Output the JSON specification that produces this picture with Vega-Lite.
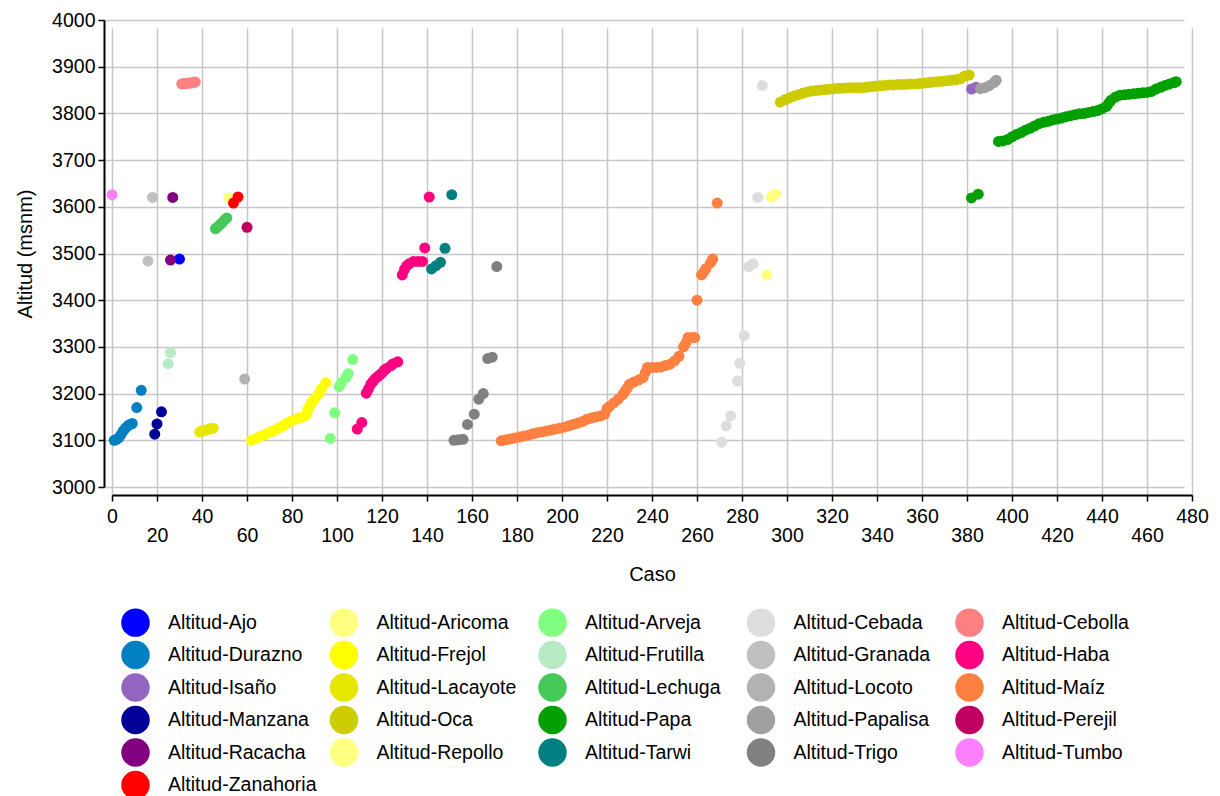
{
  "$schema": "https://vega.github.io/schema/vega-lite/v6.json",
  "width": 1080,
  "height": 467,
  "autosize": {"type": "none"},
  "padding": {"left": 112, "top": 20, "right": 28, "bottom": 309},
  "background": "white",
  "config": {
    "view": {"stroke": null},
    "font": "Liberation Sans",
    "axis": {
      "labelFont": "Liberation Sans", "titleFont": "Liberation Sans",
      "labelColor": "#000", "titleColor": "#000",
      "labelFontSize": 19.5, "titleFontSize": 20, "titleFontWeight": "normal",
      "domainColor": "#000", "domainWidth": 2, "tickColor": "#000", "tickWidth": 1.5, "tickSize": 6,
      "gridColor": "#c6c6c6", "gridWidth": 1.5, "offset": 8
    },
    "legend": {"labelFont": "Liberation Sans", "labelFontSize": 19.5, "labelColor": "#000"}
  },
  "data": {"values": [
    {"serie":"Altitud-Ajo","caso":30,"alt":3488},
    {"serie":"Altitud-Aricoma","caso":52,"alt":3619},
    {"serie":"Altitud-Arveja","caso":97,"alt":3104},{"serie":"Altitud-Arveja","caso":99,"alt":3159},{"serie":"Altitud-Arveja","caso":101,"alt":3215},{"serie":"Altitud-Arveja","caso":102,"alt":3224},{"serie":"Altitud-Arveja","caso":104,"alt":3235},{"serie":"Altitud-Arveja","caso":105,"alt":3243},{"serie":"Altitud-Arveja","caso":107,"alt":3273},
    {"serie":"Altitud-Cebada","caso":271,"alt":3096},{"serie":"Altitud-Cebada","caso":273,"alt":3131},{"serie":"Altitud-Cebada","caso":275,"alt":3152},{"serie":"Altitud-Cebada","caso":278,"alt":3227},{"serie":"Altitud-Cebada","caso":279,"alt":3265},{"serie":"Altitud-Cebada","caso":281,"alt":3324},{"serie":"Altitud-Cebada","caso":283,"alt":3472},{"serie":"Altitud-Cebada","caso":285,"alt":3478},{"serie":"Altitud-Cebada","caso":287,"alt":3620},{"serie":"Altitud-Cebada","caso":289,"alt":3860},
    {"serie":"Altitud-Cebolla","caso":31,"alt":3863},{"serie":"Altitud-Cebolla","caso":32,"alt":3864},{"serie":"Altitud-Cebolla","caso":33,"alt":3864},{"serie":"Altitud-Cebolla","caso":34,"alt":3865},{"serie":"Altitud-Cebolla","caso":35,"alt":3865},{"serie":"Altitud-Cebolla","caso":36,"alt":3866},{"serie":"Altitud-Cebolla","caso":37,"alt":3867},
    {"serie":"Altitud-Durazno","caso":1,"alt":3100},{"serie":"Altitud-Durazno","caso":2,"alt":3102},{"serie":"Altitud-Durazno","caso":3,"alt":3105},{"serie":"Altitud-Durazno","caso":4,"alt":3112},{"serie":"Altitud-Durazno","caso":5,"alt":3120},{"serie":"Altitud-Durazno","caso":6,"alt":3126},{"serie":"Altitud-Durazno","caso":7,"alt":3131},{"serie":"Altitud-Durazno","caso":8,"alt":3134},{"serie":"Altitud-Durazno","caso":9,"alt":3136},{"serie":"Altitud-Durazno","caso":11,"alt":3170},{"serie":"Altitud-Durazno","caso":13,"alt":3207},
    {"serie":"Altitud-Frejol","caso":62,"alt":3100},{"serie":"Altitud-Frejol","caso":64,"alt":3104},{"serie":"Altitud-Frejol","caso":66,"alt":3108},{"serie":"Altitud-Frejol","caso":68,"alt":3112},{"serie":"Altitud-Frejol","caso":70,"alt":3117},{"serie":"Altitud-Frejol","caso":72,"alt":3121},{"serie":"Altitud-Frejol","caso":74,"alt":3126},{"serie":"Altitud-Frejol","caso":76,"alt":3131},{"serie":"Altitud-Frejol","caso":78,"alt":3137},{"serie":"Altitud-Frejol","caso":80,"alt":3142},{"serie":"Altitud-Frejol","caso":82,"alt":3146},{"serie":"Altitud-Frejol","caso":84,"alt":3149},{"serie":"Altitud-Frejol","caso":86,"alt":3153},{"serie":"Altitud-Frejol","caso":87,"alt":3165},{"serie":"Altitud-Frejol","caso":88,"alt":3175},{"serie":"Altitud-Frejol","caso":89,"alt":3183},{"serie":"Altitud-Frejol","caso":90,"alt":3188},{"serie":"Altitud-Frejol","caso":92,"alt":3200},{"serie":"Altitud-Frejol","caso":93,"alt":3210},{"serie":"Altitud-Frejol","caso":95,"alt":3223},
    {"serie":"Altitud-Frutilla","caso":25,"alt":3264},{"serie":"Altitud-Frutilla","caso":26,"alt":3288},
    {"serie":"Altitud-Granada","caso":16,"alt":3484},{"serie":"Altitud-Granada","caso":18,"alt":3620},
    {"serie":"Altitud-Haba","caso":109,"alt":3124},{"serie":"Altitud-Haba","caso":111,"alt":3138},{"serie":"Altitud-Haba","caso":113,"alt":3201},{"serie":"Altitud-Haba","caso":114,"alt":3210},{"serie":"Altitud-Haba","caso":115,"alt":3220},{"serie":"Altitud-Haba","caso":116,"alt":3226},{"serie":"Altitud-Haba","caso":117,"alt":3232},{"serie":"Altitud-Haba","caso":118,"alt":3236},{"serie":"Altitud-Haba","caso":119,"alt":3240},{"serie":"Altitud-Haba","caso":120,"alt":3244},{"serie":"Altitud-Haba","caso":121,"alt":3250},{"serie":"Altitud-Haba","caso":122,"alt":3254},{"serie":"Altitud-Haba","caso":124,"alt":3260},{"serie":"Altitud-Haba","caso":125,"alt":3264},{"serie":"Altitud-Haba","caso":127,"alt":3268},{"serie":"Altitud-Haba","caso":129,"alt":3454},{"serie":"Altitud-Haba","caso":130,"alt":3466},{"serie":"Altitud-Haba","caso":131,"alt":3474},{"serie":"Altitud-Haba","caso":132,"alt":3478},{"serie":"Altitud-Haba","caso":134,"alt":3483},{"serie":"Altitud-Haba","caso":136,"alt":3483},{"serie":"Altitud-Haba","caso":138,"alt":3483},{"serie":"Altitud-Haba","caso":139,"alt":3512},{"serie":"Altitud-Haba","caso":141,"alt":3621},
    {"serie":"Altitud-Isaño","caso":382,"alt":3852},{"serie":"Altitud-Isaño","caso":384,"alt":3856},
    {"serie":"Altitud-Lacayote","caso":39,"alt":3118},{"serie":"Altitud-Lacayote","caso":40,"alt":3120},{"serie":"Altitud-Lacayote","caso":41,"alt":3121},{"serie":"Altitud-Lacayote","caso":42,"alt":3122},{"serie":"Altitud-Lacayote","caso":43,"alt":3124},{"serie":"Altitud-Lacayote","caso":44,"alt":3125},{"serie":"Altitud-Lacayote","caso":45,"alt":3126},
    {"serie":"Altitud-Lechuga","caso":46,"alt":3553},{"serie":"Altitud-Lechuga","caso":47,"alt":3557},{"serie":"Altitud-Lechuga","caso":48,"alt":3562},{"serie":"Altitud-Lechuga","caso":49,"alt":3566},{"serie":"Altitud-Lechuga","caso":50,"alt":3572},{"serie":"Altitud-Lechuga","caso":51,"alt":3576},
    {"serie":"Altitud-Locoto","caso":59,"alt":3231},
    {"serie":"Altitud-Maíz","caso":173,"alt":3099},{"serie":"Altitud-Maíz","caso":175,"alt":3101},{"serie":"Altitud-Maíz","caso":177,"alt":3103},{"serie":"Altitud-Maíz","caso":179,"alt":3105},{"serie":"Altitud-Maíz","caso":181,"alt":3107},{"serie":"Altitud-Maíz","caso":183,"alt":3109},{"serie":"Altitud-Maíz","caso":185,"alt":3111},{"serie":"Altitud-Maíz","caso":187,"alt":3114},{"serie":"Altitud-Maíz","caso":189,"alt":3116},{"serie":"Altitud-Maíz","caso":191,"alt":3118},{"serie":"Altitud-Maíz","caso":193,"alt":3120},{"serie":"Altitud-Maíz","caso":195,"alt":3122},{"serie":"Altitud-Maíz","caso":197,"alt":3124},{"serie":"Altitud-Maíz","caso":199,"alt":3126},{"serie":"Altitud-Maíz","caso":201,"alt":3128},{"serie":"Altitud-Maíz","caso":203,"alt":3131},{"serie":"Altitud-Maíz","caso":205,"alt":3134},{"serie":"Altitud-Maíz","caso":207,"alt":3137},{"serie":"Altitud-Maíz","caso":209,"alt":3140},{"serie":"Altitud-Maíz","caso":211,"alt":3145},{"serie":"Altitud-Maíz","caso":213,"alt":3148},{"serie":"Altitud-Maíz","caso":215,"alt":3150},{"serie":"Altitud-Maíz","caso":217,"alt":3152},{"serie":"Altitud-Maíz","caso":219,"alt":3156},{"serie":"Altitud-Maíz","caso":220,"alt":3168},{"serie":"Altitud-Maíz","caso":221,"alt":3172},{"serie":"Altitud-Maíz","caso":223,"alt":3180},{"serie":"Altitud-Maíz","caso":225,"alt":3188},{"serie":"Altitud-Maíz","caso":227,"alt":3198},{"serie":"Altitud-Maíz","caso":228,"alt":3205},{"serie":"Altitud-Maíz","caso":229,"alt":3212},{"serie":"Altitud-Maíz","caso":230,"alt":3220},{"serie":"Altitud-Maíz","caso":232,"alt":3225},{"serie":"Altitud-Maíz","caso":234,"alt":3229},{"serie":"Altitud-Maíz","caso":236,"alt":3234},{"serie":"Altitud-Maíz","caso":237,"alt":3245},{"serie":"Altitud-Maíz","caso":238,"alt":3256},{"serie":"Altitud-Maíz","caso":240,"alt":3256},{"serie":"Altitud-Maíz","caso":242,"alt":3256},{"serie":"Altitud-Maíz","caso":244,"alt":3257},{"serie":"Altitud-Maíz","caso":246,"alt":3260},{"serie":"Altitud-Maíz","caso":248,"alt":3263},{"serie":"Altitud-Maíz","caso":250,"alt":3270},{"serie":"Altitud-Maíz","caso":252,"alt":3280},{"serie":"Altitud-Maíz","caso":254,"alt":3300},{"serie":"Altitud-Maíz","caso":255,"alt":3308},{"serie":"Altitud-Maíz","caso":256,"alt":3320},{"serie":"Altitud-Maíz","caso":258,"alt":3320},{"serie":"Altitud-Maíz","caso":259,"alt":3320},{"serie":"Altitud-Maíz","caso":260,"alt":3400},{"serie":"Altitud-Maíz","caso":262,"alt":3454},{"serie":"Altitud-Maíz","caso":263,"alt":3460},{"serie":"Altitud-Maíz","caso":264,"alt":3468},{"serie":"Altitud-Maíz","caso":266,"alt":3480},{"serie":"Altitud-Maíz","caso":267,"alt":3488},{"serie":"Altitud-Maíz","caso":269,"alt":3608},
    {"serie":"Altitud-Manzana","caso":19,"alt":3113},{"serie":"Altitud-Manzana","caso":20,"alt":3135},{"serie":"Altitud-Manzana","caso":22,"alt":3161},
    {"serie":"Altitud-Oca","caso":297,"alt":3824},{"serie":"Altitud-Oca","caso":299,"alt":3829},{"serie":"Altitud-Oca","caso":301,"alt":3833},{"serie":"Altitud-Oca","caso":303,"alt":3837},{"serie":"Altitud-Oca","caso":305,"alt":3840},{"serie":"Altitud-Oca","caso":307,"alt":3843},{"serie":"Altitud-Oca","caso":309,"alt":3846},{"serie":"Altitud-Oca","caso":311,"alt":3848},{"serie":"Altitud-Oca","caso":313,"alt":3849},{"serie":"Altitud-Oca","caso":315,"alt":3850},{"serie":"Altitud-Oca","caso":317,"alt":3851},{"serie":"Altitud-Oca","caso":319,"alt":3852},{"serie":"Altitud-Oca","caso":321,"alt":3853},{"serie":"Altitud-Oca","caso":323,"alt":3854},{"serie":"Altitud-Oca","caso":325,"alt":3854},{"serie":"Altitud-Oca","caso":327,"alt":3855},{"serie":"Altitud-Oca","caso":329,"alt":3855},{"serie":"Altitud-Oca","caso":331,"alt":3855},{"serie":"Altitud-Oca","caso":333,"alt":3855},{"serie":"Altitud-Oca","caso":335,"alt":3856},{"serie":"Altitud-Oca","caso":337,"alt":3857},{"serie":"Altitud-Oca","caso":339,"alt":3858},{"serie":"Altitud-Oca","caso":341,"alt":3859},{"serie":"Altitud-Oca","caso":343,"alt":3860},{"serie":"Altitud-Oca","caso":345,"alt":3861},{"serie":"Altitud-Oca","caso":347,"alt":3861},{"serie":"Altitud-Oca","caso":349,"alt":3862},{"serie":"Altitud-Oca","caso":351,"alt":3862},{"serie":"Altitud-Oca","caso":353,"alt":3862},{"serie":"Altitud-Oca","caso":355,"alt":3863},{"serie":"Altitud-Oca","caso":357,"alt":3863},{"serie":"Altitud-Oca","caso":359,"alt":3864},{"serie":"Altitud-Oca","caso":361,"alt":3865},{"serie":"Altitud-Oca","caso":363,"alt":3866},{"serie":"Altitud-Oca","caso":365,"alt":3867},{"serie":"Altitud-Oca","caso":367,"alt":3868},{"serie":"Altitud-Oca","caso":369,"alt":3869},{"serie":"Altitud-Oca","caso":371,"alt":3870},{"serie":"Altitud-Oca","caso":373,"alt":3871},{"serie":"Altitud-Oca","caso":375,"alt":3872},{"serie":"Altitud-Oca","caso":377,"alt":3874},{"serie":"Altitud-Oca","caso":379,"alt":3880},{"serie":"Altitud-Oca","caso":381,"alt":3882},
    {"serie":"Altitud-Papa","caso":382,"alt":3619},{"serie":"Altitud-Papa","caso":385,"alt":3627},{"serie":"Altitud-Papa","caso":394,"alt":3740},{"serie":"Altitud-Papa","caso":396,"alt":3741},{"serie":"Altitud-Papa","caso":398,"alt":3744},{"serie":"Altitud-Papa","caso":400,"alt":3750},{"serie":"Altitud-Papa","caso":402,"alt":3755},{"serie":"Altitud-Papa","caso":404,"alt":3759},{"serie":"Altitud-Papa","caso":406,"alt":3764},{"serie":"Altitud-Papa","caso":408,"alt":3768},{"serie":"Altitud-Papa","caso":410,"alt":3773},{"serie":"Altitud-Papa","caso":412,"alt":3778},{"serie":"Altitud-Papa","caso":414,"alt":3781},{"serie":"Altitud-Papa","caso":416,"alt":3783},{"serie":"Altitud-Papa","caso":418,"alt":3786},{"serie":"Altitud-Papa","caso":420,"alt":3788},{"serie":"Altitud-Papa","caso":422,"alt":3790},{"serie":"Altitud-Papa","caso":424,"alt":3793},{"serie":"Altitud-Papa","caso":426,"alt":3795},{"serie":"Altitud-Papa","caso":428,"alt":3797},{"serie":"Altitud-Papa","caso":430,"alt":3799},{"serie":"Altitud-Papa","caso":432,"alt":3800},{"serie":"Altitud-Papa","caso":434,"alt":3802},{"serie":"Altitud-Papa","caso":436,"alt":3804},{"serie":"Altitud-Papa","caso":438,"alt":3806},{"serie":"Altitud-Papa","caso":440,"alt":3810},{"serie":"Altitud-Papa","caso":442,"alt":3815},{"serie":"Altitud-Papa","caso":443,"alt":3822},{"serie":"Altitud-Papa","caso":444,"alt":3828},{"serie":"Altitud-Papa","caso":446,"alt":3835},{"serie":"Altitud-Papa","caso":448,"alt":3839},{"serie":"Altitud-Papa","caso":450,"alt":3840},{"serie":"Altitud-Papa","caso":452,"alt":3841},{"serie":"Altitud-Papa","caso":454,"alt":3842},{"serie":"Altitud-Papa","caso":456,"alt":3843},{"serie":"Altitud-Papa","caso":458,"alt":3844},{"serie":"Altitud-Papa","caso":460,"alt":3845},{"serie":"Altitud-Papa","caso":462,"alt":3847},{"serie":"Altitud-Papa","caso":464,"alt":3852},{"serie":"Altitud-Papa","caso":466,"alt":3856},{"serie":"Altitud-Papa","caso":468,"alt":3860},{"serie":"Altitud-Papa","caso":470,"alt":3863},{"serie":"Altitud-Papa","caso":472,"alt":3866},{"serie":"Altitud-Papa","caso":473,"alt":3868},
    {"serie":"Altitud-Papalisa","caso":386,"alt":3853},{"serie":"Altitud-Papalisa","caso":388,"alt":3855},{"serie":"Altitud-Papalisa","caso":390,"alt":3860},{"serie":"Altitud-Papalisa","caso":392,"alt":3866},{"serie":"Altitud-Papalisa","caso":393,"alt":3871},
    {"serie":"Altitud-Perejil","caso":60,"alt":3556},
    {"serie":"Altitud-Racacha","caso":26,"alt":3486},{"serie":"Altitud-Racacha","caso":27,"alt":3620},
    {"serie":"Altitud-Repollo","caso":291,"alt":3454},{"serie":"Altitud-Repollo","caso":293,"alt":3621},{"serie":"Altitud-Repollo","caso":295,"alt":3627},
    {"serie":"Altitud-Tarwi","caso":142,"alt":3467},{"serie":"Altitud-Tarwi","caso":144,"alt":3474},{"serie":"Altitud-Tarwi","caso":146,"alt":3481},{"serie":"Altitud-Tarwi","caso":148,"alt":3511},{"serie":"Altitud-Tarwi","caso":151,"alt":3626},
    {"serie":"Altitud-Trigo","caso":152,"alt":3100},{"serie":"Altitud-Trigo","caso":154,"alt":3101},{"serie":"Altitud-Trigo","caso":156,"alt":3102},{"serie":"Altitud-Trigo","caso":158,"alt":3134},{"serie":"Altitud-Trigo","caso":161,"alt":3156},{"serie":"Altitud-Trigo","caso":163,"alt":3188},{"serie":"Altitud-Trigo","caso":165,"alt":3200},{"serie":"Altitud-Trigo","caso":167,"alt":3275},{"serie":"Altitud-Trigo","caso":169,"alt":3278},{"serie":"Altitud-Trigo","caso":171,"alt":3472},
    {"serie":"Altitud-Tumbo","caso":0,"alt":3626},
    {"serie":"Altitud-Zanahoria","caso":54,"alt":3608},{"serie":"Altitud-Zanahoria","caso":56,"alt":3621}
  ]},
  "mark": {"type": "circle", "size": 121, "opacity": 1},
  "encoding": {
    "x": {
      "field": "caso", "type": "quantitative",
      "scale": {"domain": [0, 480], "nice": false, "zero": false},
      "axis": {
        "title": "Caso", "values": [0,20,40,60,80,100,120,140,160,180,200,220,240,260,280,300,320,340,360,380,400,420,440,460,480],
        "labelExpr": "datum.value % 40 === 0 ? datum.label : ['', datum.label]",
        "labelLineHeight": 19.5, "labelOverlap": false, "labelFlush": false, "labelPadding": 6,
        "titlePadding": 19
      }
    },
    "y": {
      "field": "alt", "type": "quantitative",
      "scale": {"domain": [3000, 4000], "nice": false, "zero": false},
      "axis": {
        "title": "Altitud (msnm)", "format": "d", "values": [3000,3100,3200,3300,3400,3500,3600,3700,3800,3900,4000],
        "labelOverlap": false, "labelFlush": false, "labelPadding": 3, "titlePadding": 16
      }
    },
    "color": {
      "field": "serie", "type": "nominal",
      "scale": {
        "domain": ["Altitud-Ajo","Altitud-Aricoma","Altitud-Arveja","Altitud-Cebada","Altitud-Cebolla","Altitud-Durazno","Altitud-Frejol","Altitud-Frutilla","Altitud-Granada","Altitud-Haba","Altitud-Isaño","Altitud-Lacayote","Altitud-Lechuga","Altitud-Locoto","Altitud-Maíz","Altitud-Manzana","Altitud-Oca","Altitud-Papa","Altitud-Papalisa","Altitud-Perejil","Altitud-Racacha","Altitud-Repollo","Altitud-Tarwi","Altitud-Trigo","Altitud-Tumbo","Altitud-Zanahoria"],
        "range": ["#0000ff","#ffff80","#80ff80","#dddddd","#ff8080","#0080c0","#ffff00","#b8ebc4","#c0c0c0","#ff0080","#9466c2","#e6e600","#46c85a","#b2b2b2","#ff8040","#000099","#cccc00","#00a000","#a0a0a0","#c00060","#800080","#ffff80","#008080","#808080","#ff80ff","#ff0000"]
      },
      "legend": {
        "title": null, "orient": "none", "legendX": 9, "legendY": 588, "direction": "horizontal",
        "columns": 5, "gridAlign": "all", "symbolType": "circle", "symbolSize": 812,
        "symbolStrokeWidth": 0, "labelOffset": 18, "rowPadding": 3.5, "columnPadding": 12.5,
        "padding": 0, "labelLimit": 300
      }
    }
  }
}
